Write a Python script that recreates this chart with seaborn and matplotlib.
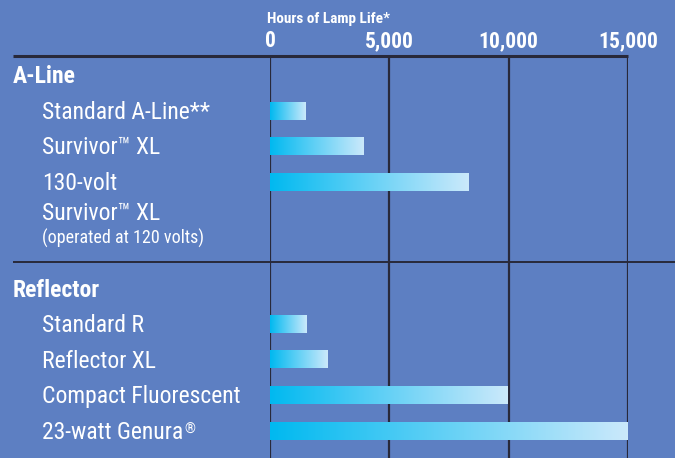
import numpy as np
import pandas as pd
import matplotlib
matplotlib.use("Agg")
import matplotlib.pyplot as plt
import matplotlib.transforms as mtransforms
from matplotlib.colors import LinearSegmentedColormap
from matplotlib import font_manager as fm
import seaborn as sns

# ---- data ----
slots = ["A-Line", "Standard A-Line**", "Survivor™ XL", "130-volt", "gap-a", "gap-b",
         "Reflector", "Standard R", "Reflector XL", "Compact Fluorescent", "23-watt Genura"]
lamps = ["Standard A-Line**", "Survivor™ XL", "130-volt", "Standard R",
         "Reflector XL", "Compact Fluorescent", "23-watt Genura"]
hours = [1500, 3900, 8300, 1550, 2400, 9950, 15000]
ticks = [0, 5000, 10000, 15000]
tick_labels = ["0", "5,000", "10,000", "15,000"]
headings = ["A-Line", "Reflector"]

BG = "#5d7fc2"
LINE = "#28293a"

avail = {f.name for f in fm.fontManager.ttflist}
pref = ["Roboto Condensed", "Archivo Narrow", "PT Sans Narrow", "Asap Condensed",
        "Liberation Sans Narrow"]
NARROW = [n for n in pref if n in avail][:1] + ["DejaVu Sans"]

sns.set_theme(style="white")
plt.rcParams["font.family"] = NARROW

df = pd.DataFrame({"lamp": lamps, "hours": hours})

fig = plt.figure(figsize=(6.75, 4.58), dpi=100, facecolor=BG)
ax = fig.add_axes([270 / 675, 0, 358 / 675, (458 - 56) / 458])
ax.set_facecolor(BG)

sns.barplot(data=df, x="hours", y="lamp", order=slots, orient="h", width=0.48,
            color="#00b8f0", ax=ax, zorder=3)

cmap = LinearSegmentedColormap.from_list("g", ["#00b9f0", "#cbe9fb"])
grad = np.linspace(0, 1, 256).reshape(1, -1)
for p in list(ax.patches):
    w = p.get_width()
    if not np.isfinite(w) or w == 0:
        continue
    x0, y0, h = p.get_x(), p.get_y(), p.get_height()
    ax.imshow(grad, cmap=cmap, aspect="auto", extent=[x0, x0 + w, y0 + h, y0],
              zorder=3, interpolation="bilinear")
    p.set_visible(False)

ax.set_xlim(0, 15000)
ax.set_ylim(10.76, -0.547)
ax.set_aspect("auto")
for s in ax.spines.values():
    s.set_visible(False)

ax.set_xticks(ticks)
ax.set_xticklabels(tick_labels, fontsize=15.5, fontweight="bold", color="white", family=NARROW)
ax.xaxis.tick_top()
ax.tick_params(axis="x", length=0, pad=3)
ax.set_yticks([])
ax.set_xlabel("")
ax.set_ylabel("")
ax.grid(axis="x", color=LINE, linewidth=1.6, zorder=1)
ax.grid(axis="y", visible=False)

# horizontal rules
ax.plot([(13 - 270) / 358, 1.0], [1, 1], transform=ax.transAxes, color=LINE,
        lw=2.2, clip_on=False, solid_capstyle="butt", zorder=5)
sep_y = 5.25
ax.plot([(13 - 270) / 358, (675 - 270) / 358], [sep_y, sep_y],
        transform=mtransforms.blended_transform_factory(ax.transAxes, ax.transData),
        color=LINE, lw=1.4, clip_on=False, solid_capstyle="butt", zorder=5)

# axis title
fig.text(267 / 675, 1 - 18.5 / 458, "Hours of Lamp Life*", fontsize=11, fontweight="bold",
         color="white", va="center", ha="left", family=NARROW)

tr = mtransforms.blended_transform_factory(fig.transFigure, ax.transData)
xh, xi = 13 / 675, 42 / 675
for hname in headings:
    ax.text(xh, slots.index(hname) + 0.04, hname, transform=tr, fontsize=17, fontweight="bold",
            color="white", va="center", ha="left", family=NARROW)

txts = {}
for k in lamps:
    txts[k] = ax.text(xi, slots.index(k) + 0.04, k, transform=tr, fontsize=17, color="white",
                      va="center", ha="left", family=NARROW)

ax.text(xi, 3.87, "Survivor™ XL", transform=tr, fontsize=17, color="white",
        va="center", ha="left", family=NARROW)
ax.text(xi, 4.58, "(operated at 120 volts)", transform=tr, fontsize=13, color="white",
        va="center", ha="left", family=NARROW)

# registered mark on Genura
fig.canvas.draw()
r = fig.canvas.get_renderer()
bb = txts["23-watt Genura"].get_window_extent(r)
fig.text((bb.x1 + 1) / fig.bbox.width, (bb.y1 - 2) / fig.bbox.height, "®", fontsize=10,
         color="white", va="top", ha="left", family=NARROW)

fig.savefig("out.png", dpi=100, facecolor=BG)
